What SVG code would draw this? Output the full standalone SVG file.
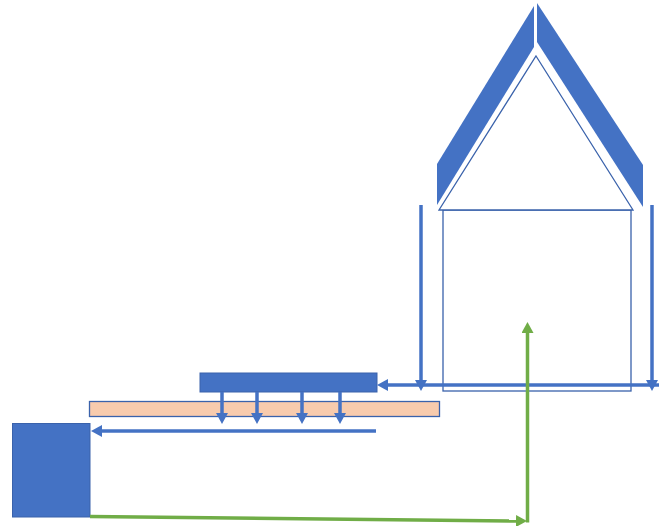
<svg xmlns="http://www.w3.org/2000/svg" width="659" height="526" viewBox="0 0 659 526">
<style>
.solid{fill:#4472c4;stroke:#3a62ab;stroke-width:1}
.roof{fill:#4472c4;stroke:none}
.outline{fill:#fff;stroke:#3a62ab;stroke-width:1.3}
.peach{fill:#f8cbad;stroke:#3a62ab;stroke-width:1.3}
.blue{stroke:#4472c4;stroke-width:3.5;fill:none;marker-end:url(#ab)}
.green{stroke:#70ad47;stroke-width:3.500;fill:none}
</style>
<defs>
<marker id="ab" markerUnits="userSpaceOnUse" markerWidth="12" markerHeight="12" refX="1" refY="6" orient="auto"><path d="M0 0L11 6L0 12Z" fill="#4472c4"/></marker>
<marker id="ag" markerUnits="userSpaceOnUse" markerWidth="12" markerHeight="12" refX="1" refY="6" orient="auto"><path d="M0 0L11 6L0 12Z" fill="#70ad47"/></marker>
</defs>
<g id="house-body"><rect class="outline" x="443" y="210" width="188" height="181"/></g>
<g id="house-gable"><path class="outline" d="M536 56L633 210H439Z"/></g>
<g id="roof-left"><path class="roof" d="M534 6V47L437 205V164Z"/></g>
<g id="roof-right"><path class="roof" d="M537 3V42L643 207V165Z"/></g>
<g id="peach-bar"><rect class="peach" x="89.500" y="401.500" width="350" height="15"/></g>
<g id="blue-bar"><rect class="solid" x="200" y="373" width="177" height="19"/></g>
<g id="blue-block"><rect class="solid" x="12.500" y="423.500" width="77.500" height="93.500"/></g>
<g id="connectors">
<path class="blue" d="M659 385H387"/>
<path class="blue" d="M421 205V381"/>
<path class="blue" d="M652 205V381"/>
<path class="blue" d="M222 392V414"/>
<path class="blue" d="M257 392V414"/>
<path class="blue" d="M302 392V414"/>
<path class="blue" d="M340 392V414"/>
<path class="blue" d="M376 431H101"/>
<path class="green" style="marker-end:url(#ag)" d="M90 516.500L517 521"/>
<path class="green" style="marker-end:url(#ag)" d="M527.500 522.500V332"/>
</g>
</svg>
